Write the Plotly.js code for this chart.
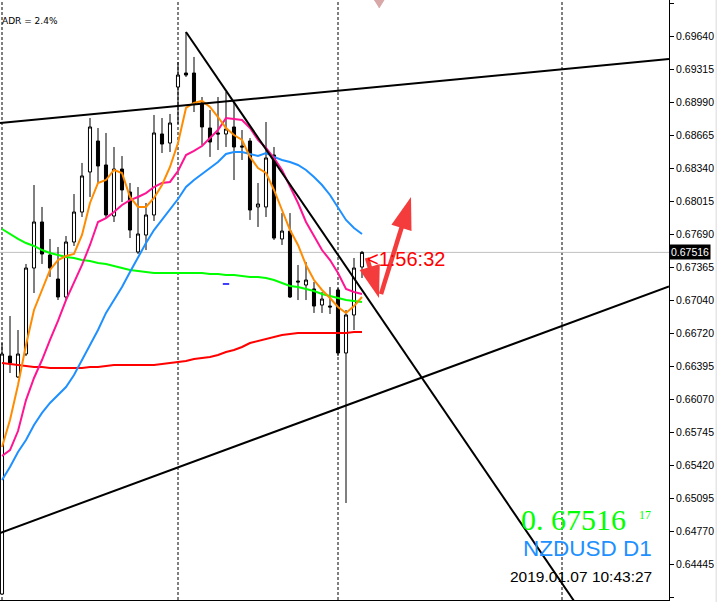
<!DOCTYPE html>
<html><head><meta charset="utf-8">
<script src="https://cdn.plot.ly/plotly-3.0.1.min.js"></script>
<style>html,body{margin:0;padding:0;background:#fff;}#chart{width:717px;height:602px;}</style>
</head><body><div id="chart"></div>
<script>
// bar index (D1 bars, oldest visible = 0, last = 2019.01.07)
const bars = [0,1,2,3,4,5,6,7,8,9,10,11,12,13,14,15,16,17,18,19,20,21,22,23,24,25,26,27,28,29,30,31,32,33,34,35,36,37,38,39,40,41,42,43,44,45];

const opens = [0.64154,0.66496,0.66290,0.66516,0.67362,0.67815,0.67490,0.67254,0.67077,0.67618,0.67913,0.68307,0.68612,0.68376,0.67874,0.68336,0.68110,0.67520,0.67687,0.67884,0.68681,0.68592,0.69143,0.69281,0.69281,0.68986,0.68740,0.68691,0.68681,0.68750,0.68563,0.68612,0.67963,0.67963,0.68474,0.67648,0.67726,0.67234,0.67195,0.67156,0.66998,0.66988,0.67146,0.66526,0.66900,0.67372];
const highs = [0.66624,0.66890,0.66752,0.67402,0.68179,0.67963,0.67648,0.67569,0.67677,0.68090,0.68396,0.68838,0.68740,0.68691,0.68553,0.68464,0.68199,0.68159,0.68002,0.68868,0.68838,0.68878,0.69389,0.69685,0.69439,0.69045,0.68917,0.69045,0.69094,0.68996,0.68720,0.68641,0.68199,0.68799,0.68553,0.67903,0.67903,0.67392,0.67421,0.67225,0.67126,0.67175,0.67165,0.66949,0.67461,0.67530];
const lows = [0.64154,0.66329,0.66280,0.66496,0.67116,0.67402,0.67274,0.67047,0.67047,0.67579,0.67864,0.68061,0.68199,0.67854,0.67815,0.68012,0.67657,0.67500,0.67539,0.67825,0.68494,0.68504,0.68779,0.69242,0.68897,0.68573,0.68455,0.68523,0.68553,0.68228,0.68425,0.67835,0.67766,0.67864,0.67638,0.67589,0.67067,0.67047,0.67047,0.66920,0.66920,0.66910,0.66496,0.65050,0.66752,0.67264];
const closes = [0.66516,0.66428,0.66516,0.67362,0.67815,0.67500,0.67362,0.67077,0.67618,0.67913,0.68268,0.68750,0.68366,0.67884,0.68336,0.68130,0.67736,0.67697,0.67884,0.68691,0.68582,0.68789,0.69261,0.69261,0.68976,0.68750,0.68602,0.68681,0.68730,0.68553,0.68553,0.67933,0.67992,0.68445,0.67657,0.67726,0.67077,0.67225,0.67244,0.66988,0.67057,0.66979,0.66526,0.66900,0.67362,0.67516];

const maOrange = [0.65601,0.65867,0.66211,0.66605,0.66949,0.67146,0.67343,0.67441,0.67480,0.67500,0.67687,0.68002,0.68199,0.68228,0.68327,0.68297,0.68061,0.67963,0.67963,0.68051,0.68179,0.68356,0.68592,0.68937,0.68986,0.69006,0.68947,0.68848,0.68740,0.68671,0.68622,0.68455,0.68346,0.68297,0.68130,0.67933,0.67736,0.67589,0.67392,0.67244,0.67146,0.67067,0.66979,0.66920,0.66988,0.67077];
const maPink = [0.65512,0.65571,0.65758,0.66063,0.66280,0.66457,0.66654,0.66841,0.67047,0.67215,0.67392,0.67589,0.67815,0.67854,0.67913,0.67982,0.68031,0.68061,0.68100,0.68159,0.68199,0.68209,0.68317,0.68474,0.68514,0.68563,0.68641,0.68720,0.68838,0.68828,0.68819,0.68740,0.68622,0.68543,0.68445,0.68327,0.68159,0.68002,0.67815,0.67677,0.67539,0.67441,0.67313,0.67156,0.67126,0.67106];
const maBlue = [0.65276,0.65404,0.65552,0.65670,0.65817,0.65936,0.66034,0.66113,0.66191,0.66309,0.66457,0.66605,0.66752,0.66920,0.67047,0.67175,0.67323,0.67471,0.67608,0.67736,0.67835,0.67933,0.68041,0.68159,0.68228,0.68287,0.68346,0.68405,0.68484,0.68504,0.68504,0.68484,0.68464,0.68494,0.68455,0.68425,0.68405,0.68376,0.68327,0.68258,0.68179,0.68081,0.67963,0.67835,0.67756,0.67697];
const maGreen = [0.67746,0.67697,0.67648,0.67608,0.67579,0.67539,0.67510,0.67490,0.67471,0.67461,0.67441,0.67431,0.67412,0.67402,0.67382,0.67362,0.67343,0.67333,0.67323,0.67313,0.67313,0.67313,0.67313,0.67313,0.67313,0.67313,0.67303,0.67303,0.67293,0.67293,0.67284,0.67274,0.67274,0.67264,0.67244,0.67215,0.67185,0.67175,0.67156,0.67136,0.67106,0.67087,0.67067,0.67047,0.67038,0.67028];
const maRed = [0.66428,0.66418,0.66408,0.66398,0.66388,0.66388,0.66378,0.66378,0.66378,0.66378,0.66378,0.66388,0.66388,0.66398,0.66408,0.66408,0.66408,0.66408,0.66408,0.66408,0.66418,0.66428,0.66437,0.66447,0.66467,0.66477,0.66487,0.66506,0.66536,0.66555,0.66585,0.66624,0.66644,0.66664,0.66683,0.66703,0.66713,0.66723,0.66723,0.66723,0.66723,0.66723,0.66723,0.66723,0.66733,0.66733];

// price scale labels
const tickVals = [0.69965,0.69640,0.69315,0.68990,0.68665,0.68340,0.68015,0.67690,0.67365,0.67040,0.66720,0.66395,0.66070,0.65745,0.65420,0.65095,0.64770,0.64445,0.64120];
const tickText = ["0.69965","0.69640","0.69315","0.68990","0.68665","0.68340","0.68015","0.67690","0.67365","0.67040","0.66720","0.66395","0.66070","0.65745","0.65420","0.65095","0.64770","0.64445","0.64120"];

// drawn objects (bar index, price)
const upperLineX = [-0.25, 83.375], upperLineY = [0.68789, 0.69419];
const lowerLineX = [-0.25, 83.375], lowerLineY = [0.64755, 0.67180];
const downLineX = [23, 73], downLineY = [0.69685, 0.63913];
const separatorX = [0, 22, 42, 70];
const blueMarkX = [27.6, 28.4], blueMarkY = [0.67205, 0.67205];
const arrowDownX = [45.625, 47.125], arrowDownY = [0.67461, 0.67067];
const arrowUpX = [47.375, 51.125], arrowUpY = [0.67106, 0.68061];
const shiftMarkX = [46.5, 47.75, 47.125], shiftMarkY = [0.69999, 0.69999, 0.69920];
const bidPrice = 0.67516;
const timerText = "&lt;1:56:32";
const symbolText = "NZDUSD D1";
const dateText = "2019.01.07 10:43:27";
const bigPrice = "0. 67516";
const spreadText = "17";
const adrText = "ADR = 2.4%";

const line = (x, y, color, w) => ({type:'scatter', mode:'lines', x:x, y:y, line:{color:color, width:w}, hoverinfo:'skip'});
const arrowColor = '#f43c3c';
const arrow = (x, y) => ({type:'scatter', mode:'lines+markers', x:x, y:y, line:{color:arrowColor, width:4.5},
  marker:{symbol:['circle','arrow'], size:[0.1, 34], color:arrowColor, opacity:1, angleref:'previous', line:{width:0}},
  hoverinfo:'skip', cliponaxis:false});

const data = [
  {type:'candlestick', x:bars, open:opens, high:highs, low:lows, close:closes,
   increasing:{line:{color:'#000', width:1}, fillcolor:'#fff'},
   decreasing:{line:{color:'#000', width:1}, fillcolor:'#000'},
   whiskerwidth:0, hoverinfo:'skip'},
  line(bars, maRed, '#ff0000', 2),
  line(bars, maGreen, '#00ff00', 2),
  line(bars, maBlue, '#1e90ff', 2),
  line(bars, maPink, '#ff1493', 2),
  line(bars, maOrange, '#ff8c00', 2),
  line(blueMarkX, blueMarkY, '#0000ff', 1.5),
  line(upperLineX, upperLineY, '#000', 2),
  line(lowerLineX, lowerLineY, '#000', 2),
  line(downLineX, downLineY, '#000', 2),
  {type:'scatter', mode:'lines', x:shiftMarkX, y:shiftMarkY, fill:'toself', fillcolor:'#d8a8a8',
   line:{color:'#d8a8a8', width:1}, hoverinfo:'skip'},
  arrow(arrowDownX, arrowDownY),
  arrow(arrowUpX, arrowUpY)
];

const shapes = separatorX.map(v => ({type:'line', xref:'x', yref:'paper', x0:v, x1:v, y0:0, y1:1, layer:'below',
  line:{color:'#000', width:1, dash:'3px,2px'}}));
shapes.push({type:'line', xref:'paper', yref:'y', x0:0, x1:1, y0:bidPrice, y1:bidPrice, layer:'below', line:{color:'#c0c0c0', width:1}});
shapes.push({type:'rect', xref:'paper', yref:'paper', x0:1.0695, x1:1.1, y0:-0.01, y1:1.01, line:{width:0}, fillcolor:'#e6e6e6'});

const annotations = [
  {xref:'paper', yref:'paper', x:0, y:0.965, xanchor:'left', yanchor:'middle', text:adrText, showarrow:false,
   font:{family:'DejaVu Sans', size:9, color:'#000'}},
  {xref:'x', yref:'y', x:45.375, y:0.67451, xanchor:'left', yanchor:'middle', text:timerText, showarrow:false,
   font:{family:'Liberation Sans, Arial', size:20, color:'#ff0000'}},
  {xref:'paper', yref:'y', x:1, y:bidPrice, xanchor:'left', yanchor:'middle', xshift:0, text:'0.67516', showarrow:false,
   bgcolor:'#000', borderpad:1, font:{family:'Liberation Sans, Arial', size:10.5, color:'#fff'}},
  {xref:'paper', yref:'paper', x:0.9387, y:0.135, xanchor:'right', yanchor:'middle', text:bigPrice, showarrow:false,
   font:{family:'Liberation Serif, Times New Roman', size:30, color:'#00ff00'}},
  {xref:'paper', yref:'paper', x:0.9761, y:0.1417, xanchor:'right', yanchor:'middle', text:spreadText, showarrow:false,
   font:{family:'Liberation Serif, Times New Roman', size:12, color:'#00ff00'}},
  {xref:'paper', yref:'paper', x:0.9776, y:0.0858, xanchor:'right', yanchor:'middle', text:symbolText, showarrow:false,
   font:{family:'Liberation Sans, Arial', size:22.5, color:'#1e90ff'}},
  {xref:'paper', yref:'paper', x:0.9776, y:0.039, xanchor:'right', yanchor:'middle', text:dateText, showarrow:false,
   font:{family:'Liberation Sans, Arial', size:15.5, color:'#000'}}
];

const layout = {
  width:717, height:602,
  margin:{l:0, r:48, t:0, b:2, pad:0},
  paper_bgcolor:'#fff', plot_bgcolor:'#fff',
  showlegend:false, hovermode:false, boxgap:0.45, dragmode:false,
  xaxis:{range:[-0.25, 83.375], showgrid:false, zeroline:false, showticklabels:false, ticks:'',
         showline:true, linecolor:'#000', linewidth:1, rangeslider:{visible:false}, fixedrange:true},
  yaxis:{side:'right', range:[0.640954, 0.699994], tickmode:'array', tickvals:tickVals, ticktext:tickText,
         ticks:'outside', ticklen:4, tickcolor:'#000', tickwidth:1, showline:true, linecolor:'#000', linewidth:1,
         showgrid:false, zeroline:false, fixedrange:true,
         tickfont:{family:'Liberation Sans, Arial', size:10.5, color:'#000'}},
  shapes:shapes, annotations:annotations
};

Plotly.newPlot('chart', data, layout, {displayModeBar:false, staticPlot:true});
</script>
</body></html>
